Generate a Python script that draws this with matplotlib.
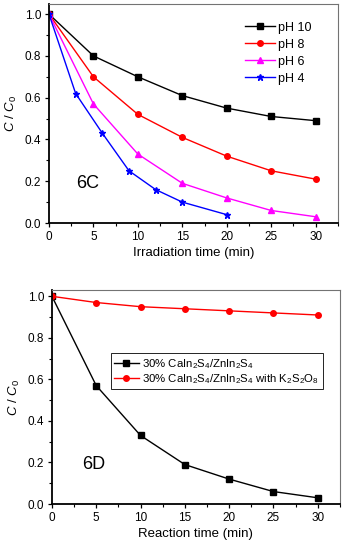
import matplotlib
matplotlib.use("Agg")
import matplotlib.pyplot as plt
from matplotlib.ticker import MultipleLocator, FormatStrFormatter

plt.rcParams['font.family'] = ['Liberation Sans', 'DejaVu Sans']
plt.rcParams['mathtext.fontset'] = 'custom'
plt.rcParams['mathtext.rm'] = 'Liberation Sans'
plt.rcParams['mathtext.it'] = 'Liberation Sans:italic'

# Panel 6C
t_main = [0, 5, 10, 15, 20, 25, 30]
ph10 = [1.0, 0.80, 0.70, 0.61, 0.55, 0.51, 0.49]
ph8 = [1.0, 0.70, 0.52, 0.41, 0.32, 0.25, 0.21]
ph6 = [1.0, 0.57, 0.33, 0.19, 0.12, 0.06, 0.03]
t_ph4 = [0, 3, 6, 9, 12, 15, 20]
ph4 = [1.0, 0.62, 0.43, 0.25, 0.16, 0.10, 0.04]

# Panel 6D
t_d = [0, 5, 10, 15, 20, 25, 30]
composite = [1.0, 0.57, 0.33, 0.19, 0.12, 0.06, 0.03]
composite_k2s2o8 = [1.0, 0.97, 0.95, 0.94, 0.93, 0.92, 0.91]

fig = plt.figure(figsize=(3.44, 5.5), dpi=100)
ax1 = fig.add_axes([0.1424, 0.5945, 0.840, 0.398])
ax2 = fig.add_axes([0.151, 0.0836, 0.837, 0.389])

ms = 4
ax1.plot(t_main, ph10, '-s', color='black', ms=ms, lw=1, label='pH 10')
ax1.plot(t_main, ph8, '-o', color='red', ms=ms, lw=1, label='pH 8')
ax1.plot(t_main, ph6, '-^', color='magenta', ms=ms, lw=1, label='pH 6')
ax1.plot(t_ph4, ph4, '-*', color='blue', ms=ms + 1, lw=1, label='pH 4')

ax2.plot(t_d, composite, '-s', color='black', ms=ms, lw=1,
         label=r'30% CaIn$_2$S$_4$/ZnIn$_2$S$_4$')
ax2.plot(t_d, composite_k2s2o8, '-o', color='red', ms=ms, lw=1,
         label=r'30% CaIn$_2$S$_4$/ZnIn$_2$S$_4$ with K$_2$S$_2$O$_8$')

for ax, ylim_top in ((ax1, 1.048), (ax2, 1.03)):
    ax.set_xlim(0, 32.5)
    ax.set_ylim(0, ylim_top)
    ax.xaxis.set_major_locator(MultipleLocator(5))
    ax.xaxis.set_minor_locator(MultipleLocator(2.5))
    ax.yaxis.set_major_locator(MultipleLocator(0.2))
    ax.yaxis.set_minor_locator(MultipleLocator(0.1))
    ax.tick_params(which='major', direction='out', length=3, labelsize=8.5, width=0.9, pad=2.5)
    ax.tick_params(which='minor', direction='out', length=2, width=0.8)
    ax.yaxis.set_major_formatter(FormatStrFormatter('%.1f'))
    ax.spines['left'].set_linewidth(1.3)
    ax.spines['bottom'].set_linewidth(1.3)
    for s in ('top', 'right'):
        ax.spines[s].set_linewidth(0.8)
        ax.spines[s].set_color('0.45')
    ax.set_ylabel(r'$\mathit{C}$ / $\mathit{C}_0$', fontsize=9.5, labelpad=4)

ax1.set_xlabel('Irradiation time (min)', fontsize=9.5, labelpad=3)
ax2.set_xlabel('Reaction time (min)', fontsize=9.5, labelpad=3)

ax1.text(4.3, 0.19, '6C', fontsize=13, ha='center', va='center')
ax2.text(4.7, 0.19, '6D', fontsize=13, ha='center', va='center')

ax1.legend(loc='upper right', bbox_to_anchor=(0.94, 0.96), frameon=False, fontsize=9,
           handlelength=2.4, handletextpad=0.3, labelspacing=0.4, borderaxespad=0.3)
leg = ax2.legend(loc='center right', bbox_to_anchor=(0.96, 0.62), fontsize=8.2,
                 handlelength=2.2, handletextpad=0.3, labelspacing=0.15,
                 fancybox=False, framealpha=1, edgecolor='black', borderpad=0.3)
leg.get_frame().set_linewidth(0.6)

fig.savefig('out.png', dpi=100)
